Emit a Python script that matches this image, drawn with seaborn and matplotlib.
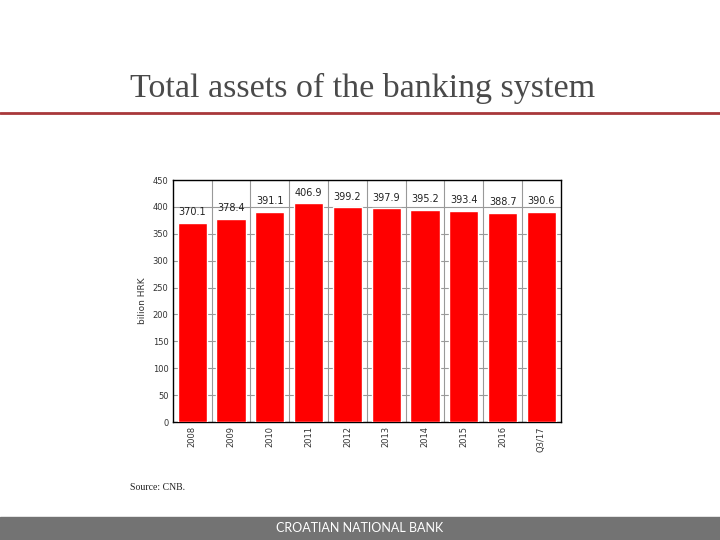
import matplotlib
matplotlib.use("Agg")
import matplotlib.pyplot as plt
import seaborn as sns
import pandas as pd

# total assets of the banking system, billion HRK
years = ["2008", "2009", "2010", "2011", "2012", "2013", "2014", "2015", "2016", "Q3/17"]
assets = [370.1, 378.4, 391.1, 406.9, 399.2, 397.9, 395.2, 393.4, 388.7, 390.6]
y_ticks = [0, 50, 100, 150, 200, 250, 300, 350, 400, 450]

df = pd.DataFrame({"year": years, "assets": assets})

sns.set_style("white")
fig = plt.figure(figsize=(7.2, 5.4), dpi=100)

# slide title and red rule
fig.text(0.503, 0.836, "Total assets of the banking system", ha="center", va="center",
         family="Liberation Serif", fontsize=24.5, color="#4a4a4a")
fig.add_artist(plt.Line2D([0, 1], [0.79, 0.79], color="#a8383a", lw=2))

ax = fig.add_axes([0.240, 0.2185, 0.539, 0.448])
sns.barplot(data=df, x="year", y="assets", color="#ff0000", saturation=1,
            width=0.75, ax=ax, zorder=3)

ax.set_ylim(0, 450)
ax.set_xlim(-0.5, len(years) - 0.5)
ax.set_yticks(y_ticks)
ax.set_yticklabels([str(t) for t in y_ticks], fontsize=6, color="#333333")
ax.set_xticks(range(len(years)))
ax.set_xticklabels(years, rotation=90, fontsize=6, color="#333333")
ax.set_xticks([i + 0.5 for i in range(len(years) - 1)], minor=True)
ax.tick_params(axis="both", length=0, pad=3)
ax.tick_params(axis="x", which="minor", length=0)
ax.grid(axis="y", color="#999999", lw=0.8, zorder=0)
ax.grid(axis="x", which="minor", color="#999999", lw=0.8, zorder=0)
ax.set_xlabel("")
ax.set_ylabel("bilion HRK", fontsize=6.5, color="#333333", labelpad=4)
for s in ax.spines.values():
    s.set_visible(True)
    s.set_color("black")
    s.set_linewidth(1)

for i, v in enumerate(assets):
    ax.annotate(f"{v:.1f}", (i, v), xytext=(0, 4), textcoords="offset points",
                ha="center", va="bottom", fontsize=7, color="#222222")

fig.text(0.18, 0.093, "Source: CNB.", family="Liberation Serif", fontsize=7, color="#222222")

# footer band
fig.add_artist(plt.Rectangle((0, 0), 1, 0.043, transform=fig.transFigure,
                             color="#737373", zorder=0))
fig.text(0.5, 0.0215, "CROATIAN NATIONAL BANK", ha="center", va="center",
         family="Lato", fontsize=9, color="white")

fig.savefig("out.png", dpi=100)
